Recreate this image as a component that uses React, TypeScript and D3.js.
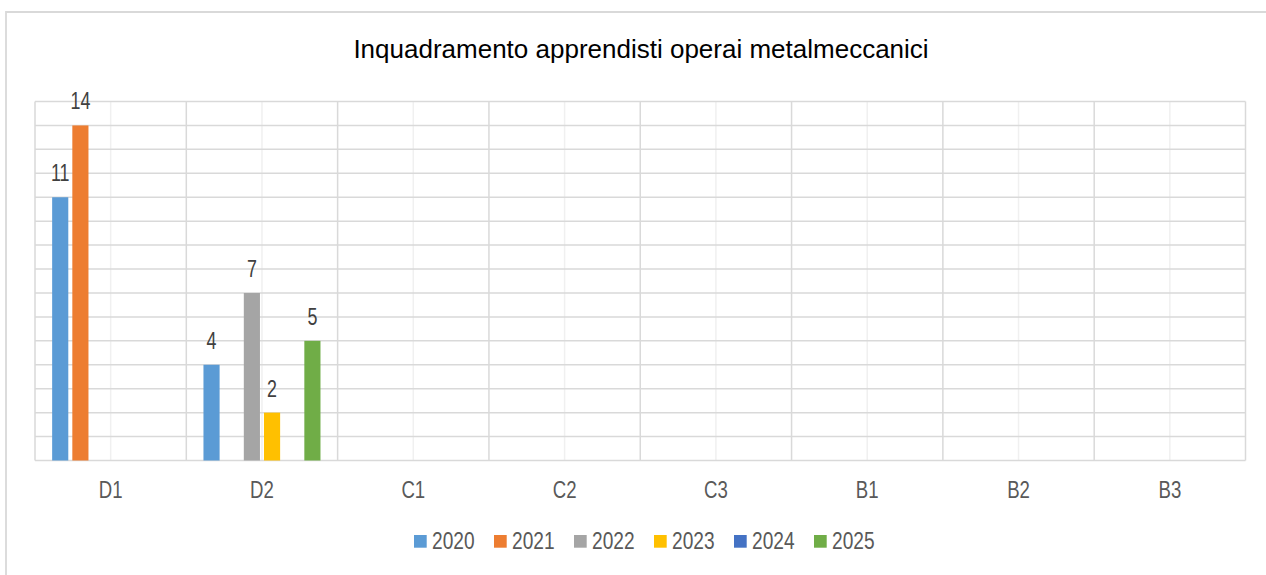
import React from "react";
import * as d3 from "d3";

const categories = ["D1", "D2", "C1", "C2", "C3", "B1", "B2", "B3"];
const years = ["2020", "2021", "2022", "2023", "2024", "2025"];
const colors = ["#5B9BD5", "#ED7D31", "#A5A5A5", "#FFC000", "#4472C4", "#70AD47"];
const v2020 = [11, 4, null, null, null, null, null, null];
const v2021 = [14, null, null, null, null, null, null, null];
const v2022 = [null, 7, null, null, null, null, null, null];
const v2023 = [null, 2, null, null, null, null, null, null];
const v2024 = [null, null, null, null, null, null, null, null];
const v2025 = [null, 5, null, null, null, null, null, null];
const seriesValues = [v2020, v2021, v2022, v2023, v2024, v2025];
const yTicks = d3.range(0, 16, 1);

const FONT = "'Liberation Sans', Arial, sans-serif";

function NText(props: { x: number; y: number; size: number; sx: number; anchor?: string; fill: string; children: any }) {
  const { x, y, size, sx, anchor, fill, children } = props;
  return (
    <text transform={`translate(${x},${y}) scale(${sx},1)`} fontSize={size} textAnchor={anchor || "start"} fill={fill}>
      {children}
    </text>
  );
}

export default function App() {
  const W = 1266, H = 575;
  const plot = { left: 35, right: 1245.5, top: 101.5, bottom: 460.5 };
  const x = d3.scaleBand<string>().domain(categories).range([plot.left, plot.right]).padding(0);
  const xi = d3.scaleBand<string>().domain(years).range([0, x.bandwidth()]).paddingInner(0.2).paddingOuter(0.85);
  const y = d3.scaleLinear().domain([0, 15]).range([plot.bottom, plot.top]);

  const legendStart = 414;
  const legendStep = 80;

  return (
    <svg width={W} height={H} style={{ position: "absolute", left: 0, top: 0, background: "#fff" }} fontFamily={FONT}>
      <rect x={0} y={0} width={W} height={H} fill="#fff" />
      <path d={`M6,${H + 5} L6,12 L${W + 5},12`} fill="none" stroke="#D9D9D9" strokeWidth={1.8} />
      <text x={641} y={58} textAnchor="middle" fontSize={26} fill="#000">
        Inquadramento apprendisti operai metalmeccanici
      </text>
      {categories.map((c) => (
        <line key={"mv" + c} x1={x(c)! + x.bandwidth() / 2} x2={x(c)! + x.bandwidth() / 2} y1={plot.top} y2={plot.bottom} stroke="#F0F0F0" strokeWidth={1.5} />
      ))}
      {yTicks.map((t) => (
        <line key={"h" + t} x1={plot.left} x2={plot.right} y1={y(t)} y2={y(t)} stroke="#D9D9D9" strokeWidth={1.5} />
      ))}
      {categories.concat(["end"]).map((c, i) => {
        const xx = i < categories.length ? x(c)! : plot.right;
        return <line key={"v" + i} x1={xx} x2={xx} y1={plot.top} y2={plot.bottom} stroke="#D9D9D9" strokeWidth={1.5} />;
      })}
      {seriesValues.map((vals, si) =>
        vals.map((v, ci) =>
          v == null ? null : (
            <rect
              key={`b${si}-${ci}`}
              x={x(categories[ci])! + xi(years[si])!}
              y={y(v)}
              width={xi.bandwidth()}
              height={y(0) - y(v)}
              fill={colors[si]}
            />
          )
        )
      )}
      {seriesValues.map((vals, si) =>
        vals.map((v, ci) =>
          v == null ? null : (
            <NText
              key={`l${si}-${ci}`}
              x={x(categories[ci])! + xi(years[si])! + xi.bandwidth() / 2}
              y={y(v) - 16}
              anchor="middle"
              size={23.5}
              sx={0.76}
              fill="#404040"
            >
              {v}
            </NText>
          )
        )
      )}
      {categories.map((c) => (
        <NText key={"c" + c} x={x(c)! + x.bandwidth() / 2} y={498} anchor="middle" size={24.5} sx={0.76} fill="#595959">
          {c}
        </NText>
      ))}
      {years.map((yr, i) => (
        <g key={"lg" + yr} transform={`translate(${legendStart + i * legendStep},0)`}>
          <rect x={0} y={535} width={12.7} height={12.7} fill={colors[i]} />
          <NText x={18} y={549.3} size={24.5} sx={0.78} fill="#595959">
            {yr}
          </NText>
        </g>
      ))}
    </svg>
  );
}
